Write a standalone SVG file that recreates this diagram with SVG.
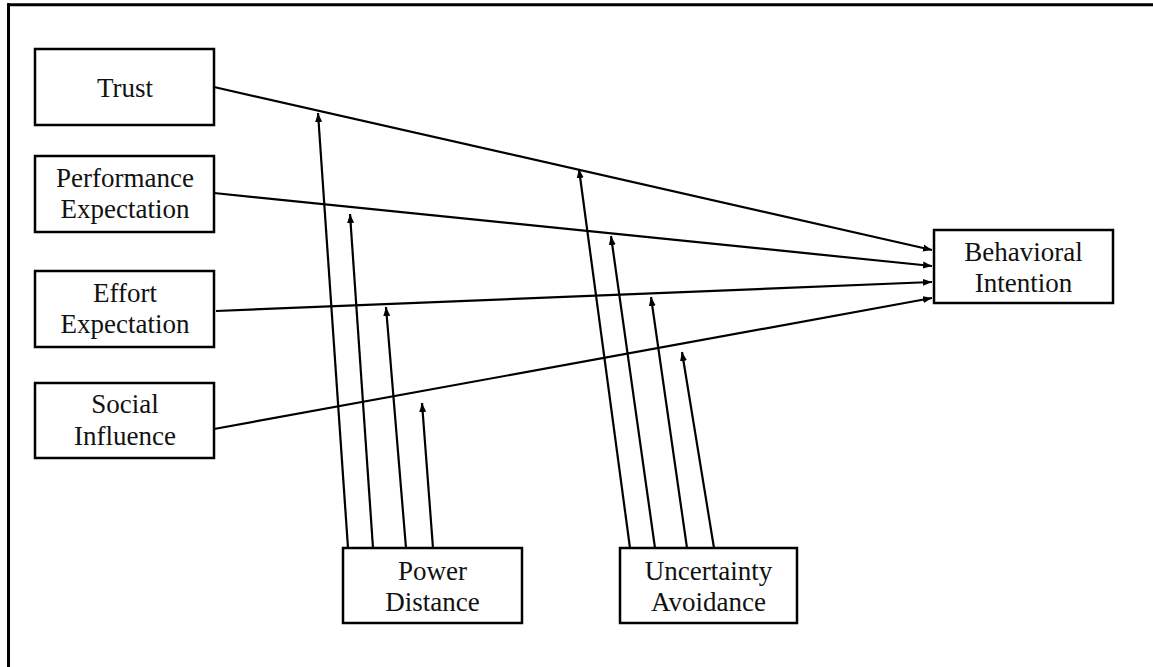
<svg xmlns="http://www.w3.org/2000/svg" width="1153" height="667" viewBox="0 0 1153 667">
<style>
.box{fill:#fff;stroke:#000;stroke-width:2.5}
.lbl{font-family:"Liberation Serif","Times New Roman",serif;font-size:27px;fill:#111;text-anchor:middle}
.con{stroke:#000;stroke-width:2.2;fill:none;marker-end:url(#ah)}
.frame{stroke:#000;stroke-width:3;fill:none}
</style>
<defs>
<marker id="ah" markerUnits="userSpaceOnUse" markerWidth="10" markerHeight="8" viewBox="0 0 10 8" refX="9" refY="4" orient="auto">
<path d="M0,0.5 L9,4 L0,7.5 Z" fill="#000"/>
</marker>
</defs>
<rect width="1153" height="667" fill="#fff"/>
<g id="frame">
<line class="frame" x1="7" y1="4.8" x2="1153" y2="4.8"/>
<line class="frame" x1="8.5" y1="3.3" x2="8.5" y2="667"/>
</g>
<g id="connectors">
<line class="con" x1="214" y1="87" x2="932" y2="250"/>
<line class="con" x1="214" y1="193" x2="932" y2="266"/>
<line class="con" x1="216" y1="311" x2="932" y2="282"/>
<line class="con" x1="214" y1="429" x2="932" y2="298"/>
<line class="con" x1="348" y1="548" x2="318" y2="113"/>
<line class="con" x1="373" y1="548" x2="350" y2="214"/>
<line class="con" x1="406" y1="548" x2="386" y2="307"/>
<line class="con" x1="433" y1="548" x2="422" y2="403"/>
<line class="con" x1="630" y1="548" x2="579" y2="169"/>
<line class="con" x1="655" y1="548" x2="611" y2="236"/>
<line class="con" x1="687" y1="548" x2="651" y2="297"/>
<line class="con" x1="714" y1="548" x2="682" y2="352"/>
</g>
<g id="trust">
<rect class="box" x="35" y="49" width="179" height="76"/>
<text class="lbl" x="125" y="97">Trust</text>
</g>
<g id="performance">
<rect class="box" x="35" y="156" width="179" height="76"/>
<text class="lbl" x="125" y="187">Performance</text>
<text class="lbl" x="125" y="218">Expectation</text>
</g>
<g id="effort">
<rect class="box" x="35" y="271" width="179" height="76"/>
<text class="lbl" x="125" y="302">Effort</text>
<text class="lbl" x="125" y="333">Expectation</text>
</g>
<g id="social">
<rect class="box" x="35" y="383" width="179" height="75"/>
<text class="lbl" x="125" y="413">Social</text>
<text class="lbl" x="125" y="445">Influence</text>
</g>
<g id="behavioral">
<rect class="box" x="934" y="230" width="179" height="73"/>
<text class="lbl" x="1023.5" y="261">Behavioral</text>
<text class="lbl" x="1023.5" y="292">Intention</text>
</g>
<g id="power">
<rect class="box" x="343" y="548" width="179" height="75"/>
<text class="lbl" x="432.5" y="580">Power</text>
<text class="lbl" x="432.5" y="611">Distance</text>
</g>
<g id="uncertainty">
<rect class="box" x="620" y="548" width="177" height="75"/>
<text class="lbl" x="708.5" y="580">Uncertainty</text>
<text class="lbl" x="708.5" y="611">Avoidance</text>
</g>
</svg>
